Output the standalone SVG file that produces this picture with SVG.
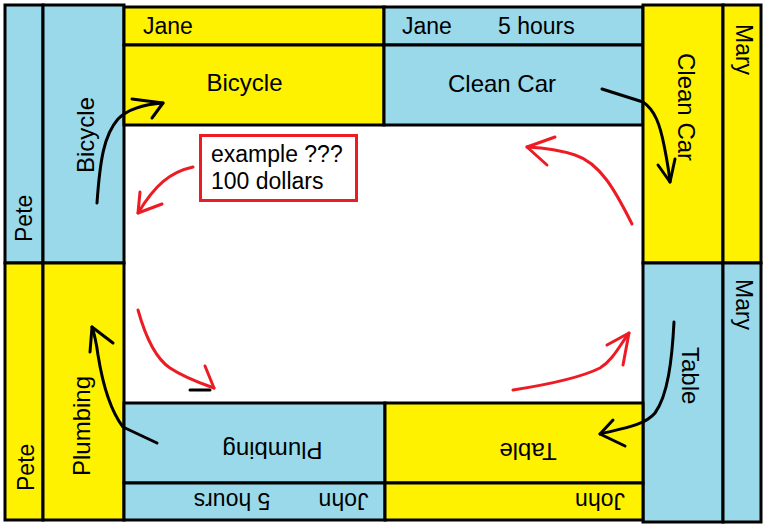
<svg xmlns="http://www.w3.org/2000/svg" width="768" height="528" viewBox="0 0 768 528">
<style>
.y{fill:#FFF200;stroke:#000;stroke-width:3}
.b{fill:#99D9EA;stroke:#000;stroke-width:3}
text{font-family:"Liberation Sans",Arial,sans-serif;fill:#000}
.n{font-size:23px}
.m{font-size:24px}
.k{fill:none;stroke:#000;stroke-width:3;stroke-linecap:round;stroke-linejoin:round}
.r{fill:none;stroke:#ED1C24;stroke-width:3;stroke-linecap:round;stroke-linejoin:round}
</style>
<rect x="0" y="0" width="768" height="528" fill="#fff"/>
<g id="pete-bicycle">
<rect class="b" x="5" y="5" width="38" height="258"/>
<rect class="b" x="43" y="5" width="81" height="258"/>
<text class="n" transform="translate(32,242) rotate(-90)">Pete</text>
<text class="m" transform="translate(94,173) rotate(-90)">Bicycle</text>
</g>
<g id="pete-plumbing">
<rect class="y" x="5" y="263" width="38" height="257"/>
<rect class="y" x="43" y="263" width="81" height="257"/>
<text class="n" transform="translate(34,491) rotate(-90)">Pete</text>
<text class="m" transform="translate(90,476) rotate(-90)">Plumbing</text>
</g>
<g id="jane-bicycle">
<rect class="y" x="124" y="7" width="260" height="38"/>
<rect class="y" x="124" y="45" width="260" height="80"/>
<text class="n" x="143" y="34">Jane</text>
<text class="m" x="244.5" y="91" text-anchor="middle">Bicycle</text>
</g>
<g id="jane-cleancar">
<rect class="b" x="384" y="7" width="259" height="38"/>
<rect class="b" x="384" y="45" width="259" height="80"/>
<text class="n" x="402" y="34">Jane</text>
<text class="n" x="498" y="34">5 hours</text>
<text class="m" x="502" y="92" text-anchor="middle">Clean Car</text>
</g>
<g id="mary-cleancar">
<rect class="y" x="643" y="5" width="80" height="258"/>
<rect class="y" x="723" y="5" width="38" height="258"/>
<text class="m" transform="translate(678,53) rotate(90)">Clean Car</text>
<text class="n" transform="translate(736,24) rotate(90)">Mary</text>
</g>
<g id="mary-table">
<rect class="b" x="643" y="263" width="80" height="259"/>
<rect class="b" x="723" y="263" width="38" height="259"/>
<text class="m" transform="translate(682,347) rotate(90)">Table</text>
<text class="n" transform="translate(736,279) rotate(90)">Mary</text>
</g>
<g id="john-plumbing">
<rect class="b" x="124" y="403" width="261" height="80"/>
<rect class="b" x="124" y="483" width="261" height="37"/>
<text class="m" text-anchor="middle" transform="translate(272.5,442) rotate(180)">Plumbing</text>
<text class="n" text-anchor="middle" transform="translate(232,493) rotate(180)">5 hours</text>
<text class="n" text-anchor="middle" transform="translate(343.5,493) rotate(180)">John</text>
</g>
<g id="john-table">
<rect class="y" x="385" y="403" width="258" height="80"/>
<rect class="y" x="385" y="483" width="258" height="37"/>
<text class="m" text-anchor="middle" transform="translate(528,443) rotate(180)">Table</text>
<text class="n" text-anchor="middle" transform="translate(600,493) rotate(180)">John</text>
</g>
<g id="example">
<rect x="200.5" y="135.5" width="156" height="65" fill="#fff" stroke="#ED1C24" stroke-width="3"/>
<text class="n" x="211" y="162">example ???</text>
<text class="n" x="211" y="189">100 dollars</text>
</g>
<g id="connectors">
<path class="k" d="M97,203 C100,160 104,135 118,119 C130,107 148,104 163,103"/>
<path class="k" d="M132,99 L163,103 L152,118"/>
<path class="k" d="M602,89 L643,102 C655,110 660,125 664,145 C667,160 669,172 670,182"/>
<path class="k" d="M658,165 L670,182 L675,159"/>
<path class="k" d="M674,322 C672,360 668,395 655,413 C645,425 625,428 600,434"/>
<path class="k" d="M613,420 L600,434 L625,446"/>
<path class="k" d="M157,443 L123,427 C110,410 102,380 98,355 C96,340 94,333 92,327"/>
<path class="k" d="M90,352 L92,327 L113,343"/>
<path class="k" d="M190,390 L210,390"/>
<path class="r" d="M193,167 C170,172 155,185 138,213"/>
<path class="r" d="M140,192 L138,213 L162,204"/>
<path class="r" d="M632,224 C615,190 600,163 575,155 C560,150 545,148 527,147"/>
<path class="r" d="M555,137 L527,147 L547,165"/>
<path class="r" d="M138,310 C145,335 155,358 170,368 C185,378 200,383 214,388"/>
<path class="r" d="M205,366 L214,388"/>
<path class="r" d="M513,390 C545,385 580,378 600,368 C613,360 620,345 629,333"/>
<path class="r" d="M607,345 L629,333 L623,365"/>
</g>
</svg>
